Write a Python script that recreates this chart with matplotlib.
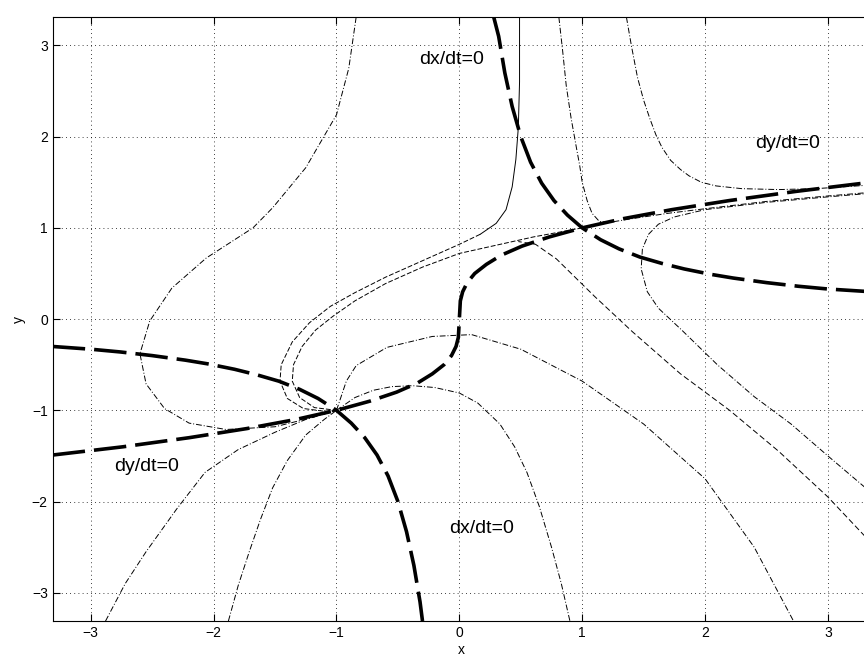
import matplotlib.pyplot as plt

plt.rcParams["font.family"] = ["Liberation Sans", "DejaVu Sans"]

# nullcline dx/dt = 0, upper and lower branch
dx0_up_x = [0.28, 0.32, 0.37, 0.43, 0.50, 0.58, 0.67, 0.77, 0.88, 1.00, 1.15, 1.30,
            1.47, 1.65, 1.83, 2.05, 2.23, 2.50, 2.76, 3.00, 3.35]
dx0_up_y = [3.31, 3.10, 2.70, 2.33, 2.00, 1.72, 1.49, 1.30, 1.14, 1.00, 0.87, 0.77,
            0.68, 0.61, 0.55, 0.49, 0.45, 0.40, 0.36, 0.33, 0.30]
dx0_lo_x = [-3.31, -3.00, -2.76, -2.50, -2.23, -2.05, -1.83, -1.65, -1.47, -1.30, -1.15,
            -1.00, -0.88, -0.77, -0.67, -0.58, -0.50, -0.43, -0.37, -0.32, -0.30]
dx0_lo_y = [-0.30, -0.33, -0.36, -0.40, -0.45, -0.49, -0.55, -0.61, -0.68, -0.77, -0.87,
            -1.00, -1.14, -1.30, -1.49, -1.72, -2.00, -2.33, -2.70, -3.10, -3.31]

# nullcline dy/dt = 0
dy0_x = [-3.31, -2.74, -2.20, -1.73, -1.33, -1.00, -0.73, -0.51, -0.34, -0.22, -0.125,
         -0.064, -0.027, -0.008, 0.0, 0.008, 0.027, 0.064, 0.125, 0.22, 0.34, 0.51,
         0.73, 1.00, 1.33, 1.73, 2.20, 2.74, 3.35]
dy0_y = [-1.49, -1.40, -1.30, -1.20, -1.10, -1.00, -0.90, -0.80, -0.70, -0.60, -0.50,
         -0.40, -0.30, -0.20, 0.0, 0.20, 0.30, 0.40, 0.50, 0.60, 0.70, 0.80,
         0.90, 1.00, 1.10, 1.20, 1.30, 1.40, 1.50]

# trajectories
arc_x = [-0.84, -0.90, -1.00, -1.25, -1.52, -1.68, -2.06, -2.34, -2.52, -2.60, -2.55,
         -2.40, -2.20, -1.90, -1.50, -1.20, -1.00]
arc_y = [3.31, 2.75, 2.24, 1.66, 1.22, 1.00, 0.67, 0.34, -0.02, -0.38, -0.71,
         -0.98, -1.14, -1.21, -1.18, -1.08, -1.00]

# comes down near x = 0.49 and swings round the left to the node
sep_x = [0.49, 0.49, 0.48, 0.46, 0.43, 0.38, 0.30, 0.17, 0.00, -0.30, -0.60, -0.85,
         -1.05, -1.22, -1.36, -1.45, -1.46, -1.40, -1.27, -1.10, -1.00]
sep_y = [3.31, 2.60, 2.10, 1.75, 1.45, 1.20, 1.05, 0.93, 0.82, 0.64, 0.46, 0.29,
         0.14, -0.04, -0.25, -0.50, -0.68, -0.87, -0.98, -1.01, -1.00]

loop_x = [1.00, 0.80, 0.60, 0.30, 0.00, -0.30, -0.60, -0.85, -1.03, -1.17, -1.28,
          -1.35, -1.36, -1.30, -1.18, -1.00]
loop_y = [1.00, 0.95, 0.90, 0.81, 0.72, 0.57, 0.39, 0.20, 0.03, -0.12, -0.30,
          -0.50, -0.68, -0.86, -0.97, -1.00]

g_x = [0.81, 0.84, 0.87, 0.91, 0.95, 0.98, 1.00, 1.04, 1.08, 1.14, 1.22, 1.40, 1.70,
       2.00, 2.50, 3.00, 3.35]
g_y = [3.31, 2.95, 2.56, 2.20, 1.90, 1.68, 1.50, 1.30, 1.16, 1.07, 1.06, 1.10, 1.16,
       1.21, 1.29, 1.35, 1.39]

hyp_up_x = [1.36, 1.40, 1.45, 1.50, 1.55, 1.60, 1.65, 1.72, 1.80, 1.87, 1.97, 2.09,
            2.30, 2.60, 2.90, 3.35]
hyp_up_y = [3.31, 3.00, 2.65, 2.40, 2.20, 2.02, 1.88, 1.74, 1.64, 1.57, 1.50, 1.46,
            1.43, 1.42, 1.43, 1.47]

hyp_lo_x = [3.35, 3.00, 2.70, 2.40, 2.10, 1.81, 1.62, 1.53, 1.48, 1.49, 1.54, 1.62,
            1.75, 2.00, 2.50, 3.00, 3.35]
hyp_lo_y = [-1.90, -1.50, -1.15, -0.85, -0.50, -0.12, 0.12, 0.30, 0.55, 0.77, 0.93,
            1.04, 1.12, 1.20, 1.28, 1.34, 1.38]

f_x = [3.35, 3.00, 2.60, 2.20, 1.80, 1.41, 1.10, 0.79, 0.62, 0.48]
f_y = [-2.45, -1.95, -1.45, -1.00, -0.60, -0.14, 0.25, 0.66, 0.82, 0.85]

b_x = [-2.88, -2.72, -2.55, -2.30, -2.07, -1.80, -1.50, -1.25, -1.00]
b_y = [-3.31, -2.90, -2.55, -2.08, -1.68, -1.43, -1.24, -1.10, -1.00]
c_x = [-1.88, -1.80, -1.71, -1.62, -1.52, -1.40, -1.25, -1.10, -1.00]
c_y = [-3.31, -2.92, -2.55, -2.20, -1.85, -1.55, -1.27, -1.10, -1.00]
d_x = [-1.00, -0.85, -0.70, -0.55, -0.38, -0.20, 0.00, 0.15, 0.33, 0.45, 0.55, 0.65,
       0.75, 0.83, 0.90]
d_y = [-1.00, -0.86, -0.78, -0.74, -0.73, -0.75, -0.81, -0.92, -1.15, -1.40, -1.68,
       -2.05, -2.50, -2.90, -3.31]
e_x = [-1.00, -0.92, -0.84, -0.59, -0.22, 0.10, 0.50, 1.00, 1.50, 2.00, 2.40, 2.72]
e_y = [-1.00, -0.68, -0.51, -0.31, -0.19, -0.17, -0.33, -0.68, -1.15, -1.75, -2.50, -3.31]

fig = plt.figure(figsize=(8.64, 6.6), dpi=100)
ax = fig.add_axes([0.061, 0.059, 0.947, 0.915])

thin = dict(color="black", lw=0.7)
dashdot = (6, 2, 1, 2)
ax.plot(arc_x, arc_y, dashes=dashdot, **thin)
ax.plot(sep_x[:8], sep_y[:8], **thin)
ax.plot(sep_x[7:], sep_y[7:], dashes=(5, 2), **thin)
ax.plot(loop_x, loop_y, dashes=(5, 2), **thin)
ax.plot(g_x, g_y, dashes=dashdot, **thin)
ax.plot(hyp_up_x, hyp_up_y, dashes=dashdot, **thin)
ax.plot(hyp_lo_x, hyp_lo_y, dashes=dashdot, **thin)
ax.plot(f_x, f_y, dashes=(6, 3), **thin)
for xs, ys in [(b_x, b_y), (c_x, c_y), (d_x, d_y), (e_x, e_y)]:
    ax.plot(xs, ys, dashes=dashdot, **thin)

thick = dict(color="black", lw=2.6, dashes=(9, 2.5))
ax.plot(dx0_up_x, dx0_up_y, **thick)
ax.plot(dx0_lo_x, dx0_lo_y, **thick)
ax.plot(dy0_x, dy0_y, **thick)

fs = 14
ax.text(-0.06, 2.85, "dx/dt=0", fontsize=fs, ha="center", va="center")
ax.text(2.67, 1.92, "dy/dt=0", fontsize=fs, ha="center", va="center")
ax.text(-2.55, -1.62, "dy/dt=0", fontsize=fs, ha="center", va="center")
ax.text(0.18, -2.29, "dx/dt=0", fontsize=fs, ha="center", va="center")

ax.set_xlim(-3.31, 3.35)
ax.set_ylim(-3.31, 3.31)
ax.set_xticks([-3, -2, -1, 0, 1, 2, 3])
ax.set_yticks([-3, -2, -1, 0, 1, 2, 3])
ax.tick_params(direction="in", top=True, right=True, labelsize=10, length=5)
ax.grid(True, color="black", lw=0.6, dashes=(1, 4))
ax.set_xlabel("x", fontsize=10, labelpad=2)
ax.set_ylabel("y", fontsize=10, labelpad=4)

fig.savefig("out.png", dpi=100)
